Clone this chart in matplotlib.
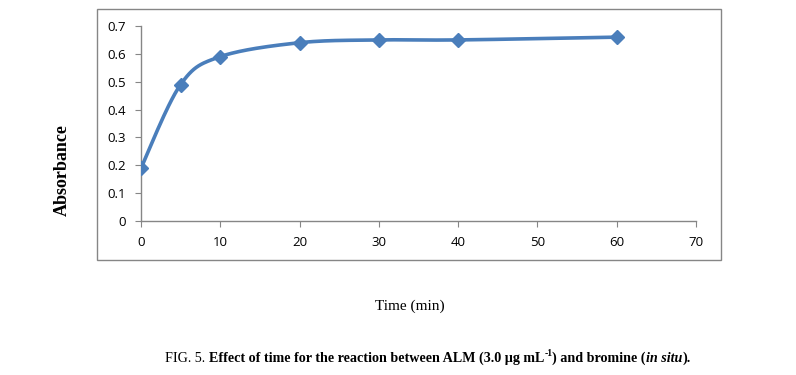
import numpy as np
import matplotlib
matplotlib.use("Agg")
import matplotlib.pyplot as plt
from matplotlib.patches import Rectangle

# data
time_min = [0, 5, 10, 20, 30, 40, 60]
absorbance = [0.19, 0.49, 0.59, 0.64, 0.65, 0.65, 0.66]
x_ticks = [0, 10, 20, 30, 40, 50, 60, 70]
y_ticks = [0, 0.1, 0.2, 0.3, 0.4, 0.5, 0.6, 0.7]

LINE = "#4a7ebb"
GRAY = "#868686"


def smooth_curve(x, y, n=30, tension=1 / 6):
    """Excel-like smoothed line: cubic Bezier segments through the points."""
    x = np.asarray(x, float)
    y = np.asarray(y, float)
    px = np.concatenate([[x[0]], x, [x[-1]]])
    py = np.concatenate([[y[0]], y, [y[-1]]])
    xs, ys = [], []
    t = np.linspace(0, 1, n)
    for i in range(1, len(px) - 2):
        p0 = np.array([px[i], py[i]])
        p3 = np.array([px[i + 1], py[i + 1]])
        p1 = p0 + tension * (np.array([px[i + 1], py[i + 1]]) - np.array([px[i - 1], py[i - 1]]))
        p2 = p3 - tension * (np.array([px[i + 2], py[i + 2]]) - np.array([px[i], py[i]]))
        b = ((1 - t) ** 3)[:, None] * p0 + (3 * (1 - t) ** 2 * t)[:, None] * p1 \
            + (3 * (1 - t) * t ** 2)[:, None] * p2 + (t ** 3)[:, None] * p3
        xs.extend(b[:, 0])
        ys.extend(b[:, 1])
    return xs, ys


fig = plt.figure(figsize=(7.96, 3.75), dpi=100)

# outer chart frame
fig.patches.append(Rectangle((97 / 796, 1 - 260 / 375), 624 / 796, 251 / 375,
                             transform=fig.transFigure, fill=False,
                             edgecolor=GRAY, linewidth=1.0))

ax = fig.add_axes([141 / 796, 1 - 221 / 375, 555 / 796, 195 / 375])
sx, sy = smooth_curve(time_min, absorbance)
ax.plot(sx, sy, color=LINE, linewidth=2.6, solid_capstyle="round", zorder=2)
ax.plot(time_min, absorbance, linestyle="none", marker="D", markersize=7,
        color=LINE, zorder=3)

ax.set_xlim(0, 70)
ax.set_ylim(0, 0.7)
ax.set_xticks(x_ticks)
ax.set_yticks(y_ticks)
ax.set_xticklabels([str(v) for v in x_ticks])
ax.set_yticklabels(["0"] + [f"{v:.1f}" for v in y_ticks[1:]])
for s in ["top", "right"]:
    ax.spines[s].set_visible(False)
for s in ["left", "bottom"]:
    ax.spines[s].set_color(GRAY)
    ax.spines[s].set_linewidth(1.0)
ax.tick_params(axis="both", direction="out", length=4, color=GRAY,
               labelsize=9.5, labelcolor="black")
ax.tick_params(axis="x", pad=7)
ax.tick_params(axis="y", pad=7)
for lab in ax.get_xticklabels() + ax.get_yticklabels():
    lab.set_fontfamily("Open Sans")

fig.text(62 / 796, 1 - 170 / 375, "Absorbance", rotation=90, ha="center", va="center",
         fontsize=13, fontweight="bold", family="Liberation Serif")
fig.text(410 / 796, 1 - 306 / 375, "Time (min)", ha="center", va="center",
         fontsize=11, family="Liberation Serif")

# caption built from pieces so part of it can be normal / italic / superscript
pieces = [
    ("FIG. 5. ", "normal", "normal", 0),
    ("Effect of time for the reaction between ALM (3.0 µg mL", "bold", "normal", 0),
    ("-1", "bold", "normal", 1),
    (") and bromine (", "bold", "normal", 0),
    ("in situ", "bold", "italic", 0),
    (").", "bold", "normal", 0),
]
fig.canvas.draw()
renderer = fig.canvas.get_renderer()
y_cap = 1 - 362 / 375
texts = []
x = 0.0
for s, w, st, sup in pieces:
    t = fig.text(x, y_cap + (0.016 if sup else 0), s, fontsize=7 if sup else 10.2,
                 fontweight=w, fontstyle=st, family="Liberation Serif", va="baseline")
    bb = t.get_window_extent(renderer)
    x += bb.width / fig.bbox.width
    texts.append(t)
total = x
x0 = 428 / 796 - total / 2
for t in texts:
    t.set_x(t.get_position()[0] + x0)

fig.savefig("out.png", dpi=100)
